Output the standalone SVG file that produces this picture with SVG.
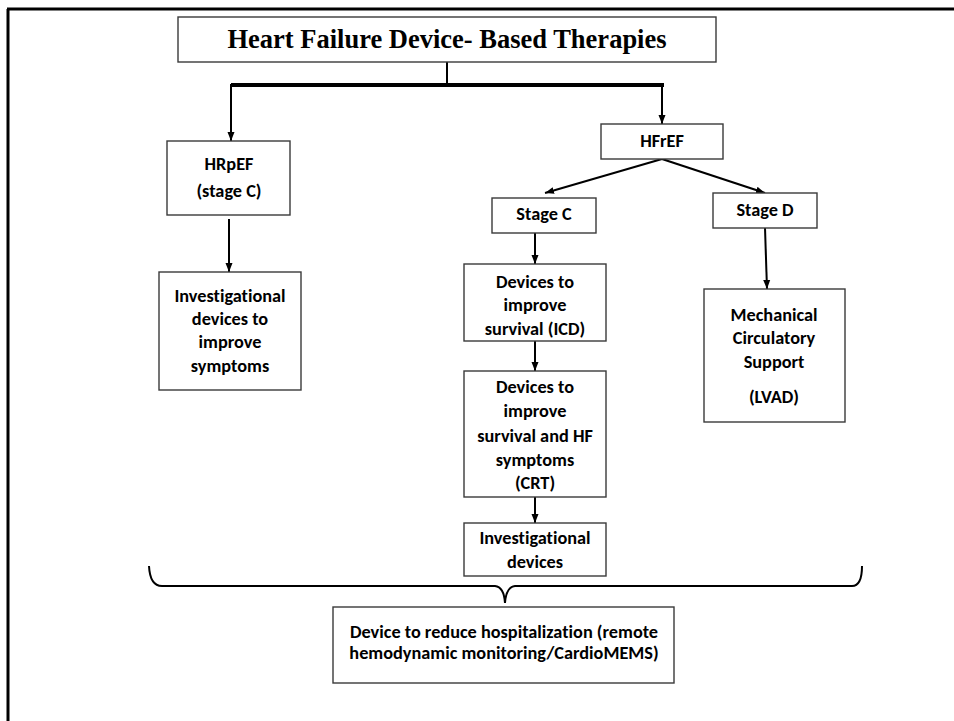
<svg xmlns="http://www.w3.org/2000/svg" width="954" height="721" viewBox="0 0 954 721">
  <style>
    .box { fill: #ffffff; stroke: #3a3a3a; stroke-width: 1.4; }
    .lbl { font-family: Carlito, Lato, "Liberation Sans", sans-serif; font-weight: bold; font-size: 18.3px; fill: #000; text-anchor: middle; font-variant-ligatures: none; }
    .title { font-family: "Liberation Serif", "Times New Roman", serif; font-weight: bold; font-size: 26.5px; fill: #000; text-anchor: middle; }
    .wire { fill: none; stroke: #000; stroke-width: 2; }
  </style>
  <defs>
    <marker id="arrow" markerUnits="userSpaceOnUse" markerWidth="10" markerHeight="10" viewBox="0 0 10 10" refX="9" refY="5" orient="auto">
      <path d="M0,1.5 L9,5 L0,8.5 Z" fill="#000"/>
    </marker>
  </defs>

  <!-- page frame -->
  <g id="frame">
    <path d="M7,9 L954,9 M8,9 L8,721" fill="none" stroke="#000" stroke-width="3"/>
  </g>

  <!-- connectors -->
  <g id="connectors">
    <path class="wire" d="M447,62 L447,85"/>
    <path d="M231,85 L664,85" fill="none" stroke="#000" stroke-width="4"/>
    <path class="wire" d="M231,84 L231,141" marker-end="url(#arrow)"/>
    <path class="wire" d="M662,84 L662,124" marker-end="url(#arrow)"/>
    <path class="wire" d="M229,219 L229,272" marker-end="url(#arrow)"/>
    <path class="wire" d="M662,159 L545,193" marker-end="url(#arrow)"/>
    <path class="wire" d="M662,159 L765,193" marker-end="url(#arrow)"/>
    <path class="wire" d="M535,233 L535,264" marker-end="url(#arrow)"/>
    <path class="wire" d="M765,228 L767,289" marker-end="url(#arrow)"/>
    <path class="wire" d="M535,341 L535,371" marker-end="url(#arrow)"/>
    <path class="wire" d="M535,497 L535,523" marker-end="url(#arrow)"/>
    <!-- curly brace gathering all branches -->
    <path class="wire" d="M149,566 Q150,586 162,586 L495,586 Q504,587 505,603 M505,603 Q506,587 515,586 L852,586 Q862,586 862,566"/>
  </g>

  <g id="title">
    <rect class="box" x="178" y="17" width="538" height="45"/>
    <text class="title" x="447" y="48">Heart Failure Device- Based Therapies</text>
  </g>

  <g id="hrpef">
    <rect class="box" x="167" y="141" width="123" height="74"/>
    <text class="lbl" x="229" y="170">HRpEF</text>
    <text class="lbl" x="229" y="197">(stage C)</text>
  </g>

  <g id="investigational-symptoms">
    <rect class="box" x="159" y="272" width="142" height="118"/>
    <text class="lbl" x="230" y="302">Investigational</text>
    <text class="lbl" x="230" y="325">devices to</text>
    <text class="lbl" x="230" y="348">improve</text>
    <text class="lbl" x="230" y="372">symptoms</text>
  </g>

  <g id="hfref">
    <rect class="box" x="601" y="124" width="122" height="35"/>
    <text class="lbl" x="662" y="147">HFrEF</text>
  </g>

  <g id="stage-c">
    <rect class="box" x="492" y="198" width="104" height="35"/>
    <text class="lbl" x="544" y="220">Stage C</text>
  </g>

  <g id="stage-d">
    <rect class="box" x="713" y="193" width="104" height="35"/>
    <text class="lbl" x="765" y="216">Stage D</text>
  </g>

  <g id="icd">
    <rect class="box" x="464" y="264" width="142" height="77"/>
    <text class="lbl" x="535" y="288">Devices to</text>
    <text class="lbl" x="535" y="311">improve</text>
    <text class="lbl" x="535" y="335">survival (ICD)</text>
  </g>

  <g id="mcs">
    <rect class="box" x="704" y="289" width="141" height="133"/>
    <text class="lbl" x="774" y="321">Mechanical</text>
    <text class="lbl" x="774" y="344">Circulatory</text>
    <text class="lbl" x="774" y="368">Support</text>
    <text class="lbl" x="774" y="403">(LVAD)</text>
  </g>

  <g id="crt">
    <rect class="box" x="464" y="371" width="142" height="126"/>
    <text class="lbl" x="535" y="393">Devices to</text>
    <text class="lbl" x="535" y="417">improve</text>
    <text class="lbl" x="535" y="442">survival and HF</text>
    <text class="lbl" x="535" y="466">symptoms</text>
    <text class="lbl" x="535" y="489">(CRT)</text>
  </g>

  <g id="investigational-devices">
    <rect class="box" x="464" y="523" width="142" height="53"/>
    <text class="lbl" x="535" y="544">Investigational</text>
    <text class="lbl" x="535" y="568">devices</text>
  </g>

  <g id="remote-monitoring">
    <rect class="box" x="333" y="607" width="341" height="76"/>
    <text class="lbl" x="504" y="638">Device to reduce hospitalization (remote</text>
    <text class="lbl" x="504" y="659">hemodynamic monitoring/CardioMEMS)</text>
  </g>
</svg>
